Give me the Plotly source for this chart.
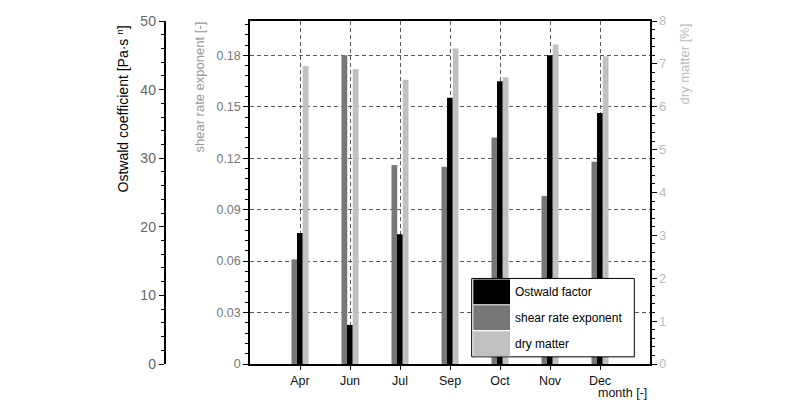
import plotly.graph_objects as go

months = ["Apr", "Jun", "Jul", "Sep", "Oct", "Nov", "Dec"]
ostwald = [19.1, 5.7, 18.9, 38.8, 41.2, 45.0, 36.6]
shear_exp = [0.061, 0.180, 0.116, 0.115, 0.132, 0.098, 0.118]
dry_matter = [6.95, 6.88, 6.63, 7.36, 6.69, 7.45, 7.18]
names = ["Ostwald factor", "shear rate exponent", "dry matter"]
colors = ["#000000", "#777777", "#c0c0c0"]

FONT = "Liberation Sans, Arial, sans-serif"
W = 0.115

fig = go.Figure()
fig.add_trace(go.Bar(x=months, y=shear_exp, name=names[1], yaxis="y",
                     marker=dict(color=colors[1], line=dict(width=0)),
                     width=W, offset=-0.17, showlegend=False))
fig.add_trace(go.Bar(x=months, y=ostwald, name=names[0], yaxis="y2",
                     marker=dict(color=colors[0], line=dict(width=0)),
                     width=W, offset=-0.06, showlegend=False))
fig.add_trace(go.Bar(x=months, y=dry_matter, name=names[2], yaxis="y3",
                     marker=dict(color=colors[2], line=dict(width=0)),
                     width=W, offset=0.055, showlegend=False))

OFF = 8  # page body margin
FW, FH = 790 - OFF, 403 - OFF
L = 250 - OFF
T = 14 - OFF
R = FW - (650 - OFF)
B = FH - (364 - OFF)
PX0 = 150 - OFF
PW = FW - PX0 - R
PH = FH - T - B

def px(x):
    return (x - OFF - PX0) / PW
def py(y):
    return (FH - B - (y - OFF)) / PH

left_pos = px(164.5)
line_w = 1.5

def cross_axis(rng, dtick, mdtick, ticks, **kw):
    d = dict(range=rng, tick0=0, dtick=dtick, ticks=ticks, ticklen=5,
             tickwidth=1.2, tickcolor="black", showline=True, linecolor="black",
             linewidth=line_w, showgrid=False, zeroline=False,
             minor=dict(tick0=0, dtick=mdtick, ticks=ticks, ticklen=3,
                        tickwidth=1, tickcolor="black", showgrid=False),
             fixedrange=True)
    d.update(kw)
    return d

fig.update_layout(
    width=FW, height=FH,
    margin=dict(l=PX0, r=R, t=T, b=B),
    paper_bgcolor="white", plot_bgcolor="white",
    barmode="overlay",
    font=dict(family=FONT, size=12, color="black"),
    xaxis=dict(type="category", categoryorder="array", categoryarray=months,
               range=[-1, 7], domain=[px(250), 1],
               showline=True, linecolor="black", linewidth=line_w, mirror=True,
               ticks="outside", ticklen=4, tickcolor="black",
               showgrid=True, gridcolor="#5a5a5a", griddash="4px,3px", gridwidth=1,
               tickfont=dict(size=12.5, color="#111111")),
    yaxis=cross_axis([0, 0.2], 0.03, 0.006, "outside", anchor="x", side="left",
                     showgrid=True, gridcolor="#5a5a5a", griddash="4px,3px",
                     gridwidth=1, tickfont=dict(size=12.5, color="#777777")),
    yaxis2=cross_axis([0, 50], 10, 2, "outside", overlaying="y", anchor="free",
                      position=left_pos, side="left",
                      tickfont=dict(size=14, color="#666666")),
    yaxis3=cross_axis([0, 8], 1, 0.2, "outside", overlaying="y", anchor="x",
                      side="right", tickfont=dict(size=12.5, color="#bbbbbb")),
    yaxis4=cross_axis([0, 0.2], 0.03, 0.006, "inside", anchor="x", side="left",
                      overlaying="y", showticklabels=False),
    yaxis5=cross_axis([0, 50], 10, 2, "inside", overlaying="y", anchor="free",
                      position=left_pos, side="left", showticklabels=False),
    yaxis6=cross_axis([0, 8], 1, 0.2, "inside", overlaying="y", anchor="x",
                      side="right", showticklabels=False),
)

ann = [
    dict(text="Ostwald coefficient [Pa·s <sup>n</sup>]", x=px(123), y=py(17),
         xanchor="center", yanchor="top", textangle=-90,
         font=dict(size=14, color="black")),
    dict(text="shear rate exponent [-]", x=px(200), y=py(13),
         xanchor="center", yanchor="top", textangle=-90,
         font=dict(size=13, color="#999999")),
    dict(text="dry matter [%]", x=px(684), y=py(15),
         xanchor="center", yanchor="top", textangle=-90,
         font=dict(size=13, color="#bbbbbb")),
    dict(text="month [-]", x=px(622), y=py(394), xanchor="center", yanchor="middle",
         font=dict(size=12.5, color="#111111")),
]
for a in ann:
    a.update(xref="paper", yref="paper", showarrow=False)
fig.update_layout(annotations=ann)

shapes = [dict(type="rect", xref="paper", yref="paper",
               x0=px(471.7), x1=px(634.3), y0=py(356.7), y1=py(276.7),
               line=dict(color="black", width=1), fillcolor="white", layer="above")]
row_tops = [277.7, 304.0, 330.7]
row_h = 25.3
for i, (nm, col) in enumerate(zip(names, colors)):
    t = row_tops[i]
    shapes.append(dict(type="rect", xref="paper", yref="paper",
                       x0=px(473.3), x1=px(510), y0=py(t + row_h), y1=py(t),
                       line=dict(width=0), fillcolor=col, layer="above"))
    fig.add_annotation(text=nm, xref="paper", yref="paper", x=px(513),
                       y=py(t + row_h / 2), xanchor="left", yanchor="middle",
                       showarrow=False, font=dict(size=12, color="black"))
fig.update_layout(shapes=shapes)

fig.write_html("out.html")
